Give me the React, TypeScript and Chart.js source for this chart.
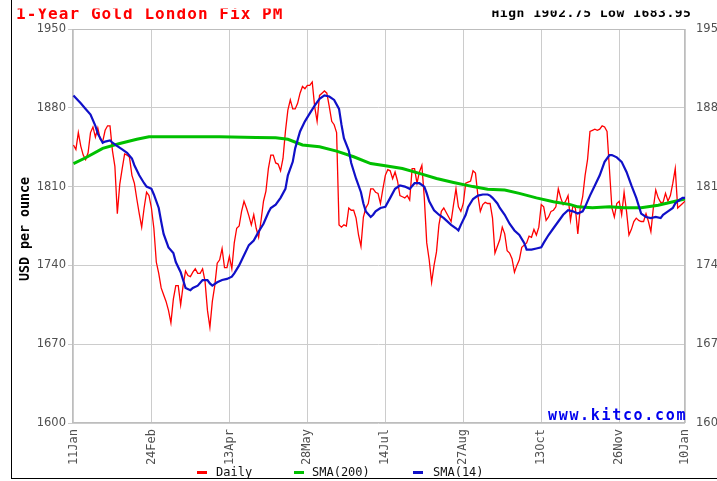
import React, { useEffect, useRef } from 'react';
import { Chart, registerables } from 'chart.js';

Chart.register(...registerables);

const chartTitle = '1-Year Gold London Fix PM';
const highValue = '1902.75';
const lowValue = '1683.95';
const yAxisTitle = 'USD per ounce';
const siteText = 'www.kitco.com';

const tickLabels = ['11Jan', '24Feb', '13Apr', '28May', '14Jul', '27Aug', '13Oct', '26Nov', '10Jan'];
const tickIndex = [0, 32, 64, 96, 128, 160, 192, 224, 251];
const yTickValues = [1600, 1670, 1740, 1810, 1880, 1950];

const daily = [
  1847, 1843, 1858, 1846, 1838, 1834, 1840, 1858, 1863, 1854,
  1862, 1852, 1850, 1860, 1864, 1864, 1842, 1828, 1786, 1812,
  1826, 1839, 1838, 1836, 1820, 1813, 1799, 1786, 1774, 1791,
  1805, 1802, 1791, 1773, 1743, 1733, 1720, 1714, 1708, 1700,
  1689, 1710, 1722, 1722, 1705, 1722, 1735, 1731, 1730, 1734,
  1737, 1733, 1733, 1737, 1726, 1700, 1685, 1708, 1722, 1742,
  1745, 1755, 1738, 1738, 1748, 1737, 1760, 1773, 1775, 1788,
  1797, 1791, 1784, 1776, 1785, 1773, 1765, 1780, 1797, 1806,
  1826, 1838, 1838, 1831, 1830, 1824, 1835, 1859, 1878, 1887,
  1879, 1879, 1884, 1893, 1899, 1897, 1900, 1900, 1903, 1881,
  1868, 1891, 1893, 1895, 1893, 1881, 1868, 1865, 1858, 1776,
  1774, 1776, 1775, 1791, 1789, 1789, 1782, 1767, 1757, 1783,
  1791, 1795, 1808, 1808, 1805, 1804, 1795, 1808, 1820, 1825,
  1824, 1817, 1823, 1815, 1802, 1801, 1800, 1802, 1798, 1826,
  1826, 1813, 1823, 1829, 1800, 1760, 1745, 1725, 1740, 1752,
  1776, 1788, 1791, 1787, 1783, 1779, 1794, 1808, 1792, 1788,
  1795, 1813, 1814, 1815, 1824, 1822, 1802, 1788, 1794, 1796,
  1795, 1795, 1782, 1751, 1757, 1763, 1774, 1768, 1753, 1751,
  1746, 1734, 1740, 1745, 1756, 1758, 1760, 1766, 1765, 1772,
  1767, 1774, 1794, 1792, 1780, 1783, 1788, 1789, 1792, 1808,
  1800, 1794, 1797, 1802, 1780, 1793, 1791, 1768, 1791, 1801,
  1820, 1834, 1859, 1860, 1861, 1860, 1861, 1864, 1863, 1859,
  1825, 1791, 1783, 1795, 1797, 1785, 1805, 1788, 1767, 1772,
  1779, 1782, 1780, 1779, 1779, 1786, 1779, 1770, 1791, 1807,
  1800, 1796, 1796, 1804, 1797, 1802, 1813, 1826, 1791, 1793,
  1795, 1797,
];

const sma14Index = [
  0, 3, 5, 7, 9, 10, 12, 13, 15, 16, 18, 20, 22, 24, 25, 27, 29, 30, 32, 33,
  35, 36, 37, 39, 41, 42, 44, 45, 46, 48, 49, 51, 53, 55, 56, 57, 59, 61, 63, 65,
  66, 68, 70, 72, 74, 76, 78, 80, 81, 83, 85, 87, 88, 90, 91, 93, 95, 97, 99, 101,
  103, 105, 107, 109, 110, 111, 113, 114, 116, 118, 119, 120, 122, 123, 124, 126, 128, 130, 132, 134,
  136, 138, 140, 142, 144, 145, 146, 148, 150, 152, 155, 157, 158, 159, 161, 162, 164, 166, 168, 170,
  171, 172, 174, 175, 177, 179, 181, 183, 185, 186, 188, 190, 192, 193, 195, 197, 199, 201, 203, 205,
  207, 209, 210, 212, 214, 216, 218, 220, 221, 223, 225, 227, 229, 231, 233, 235, 237, 239, 241, 242,
  244, 246, 247, 248, 250, 251,
];
const sma14Values = [
  1891, 1884, 1879, 1874, 1864, 1857, 1849, 1850, 1851, 1849, 1846, 1843, 1840, 1835, 1829, 1820, 1813, 1810, 1808, 1803,
  1791, 1779, 1768, 1756, 1751, 1743, 1734, 1727, 1720, 1718, 1720, 1722, 1727, 1727, 1724, 1722, 1725, 1727, 1728, 1730,
  1733, 1740, 1749, 1758, 1762, 1770, 1777, 1787, 1791, 1794, 1800, 1808, 1820, 1832, 1844, 1859, 1868, 1875, 1882, 1888,
  1891, 1890, 1887, 1879, 1865, 1853, 1842, 1831, 1817, 1805, 1795, 1788, 1783, 1785, 1788, 1791, 1792, 1800, 1808, 1811,
  1810, 1808, 1813, 1813, 1810, 1804, 1797, 1789, 1785, 1782, 1776, 1773, 1771, 1776, 1785, 1792, 1799, 1802, 1803, 1803,
  1802, 1800, 1795, 1791, 1785, 1777, 1771, 1767, 1760, 1754, 1754, 1755, 1756, 1760, 1767, 1773, 1779, 1785, 1789, 1788,
  1786, 1788, 1792, 1802, 1811, 1820, 1832, 1838, 1838, 1836, 1832, 1823, 1811, 1800, 1786, 1783, 1782, 1783, 1782, 1785,
  1788, 1791, 1795, 1797, 1800, 1800,
];

const sma200Index = [0, 5, 12, 19, 26, 31, 42, 60, 75, 83, 88, 94, 101, 108, 115, 122, 128, 135, 142, 149, 156, 164, 170, 177, 183, 190, 197, 204, 207, 213, 220, 226, 233, 240, 247, 251];
const sma200Values = [1830.5, 1835.6, 1844, 1848.3, 1852, 1854.2, 1854.2, 1854.2, 1853.6, 1853.4, 1852, 1847, 1845.4, 1841.5, 1836.5, 1830.5, 1828.5, 1826, 1821.7, 1817.2, 1813.7, 1810, 1807.7, 1806.9, 1804, 1800, 1796.5, 1794, 1792, 1791.2, 1792, 1791.2, 1791.2, 1793.5, 1797, 1799];

const seriesColors = ['#ff0000', '#00c000', '#1010c8'];

function drawSpaced(ctx: CanvasRenderingContext2D, text: string, x: number, y: number, step: number) {
  for (let i = 0; i < text.length; i++) ctx.fillText(text[i], x + i * step, y);
}

export default function App() {
  const ref = useRef<HTMLCanvasElement>(null);

  useEffect(() => {
    const canvas = ref.current;
    if (!canvas) return;

    const decor = {
      id: 'decor',
      beforeDatasetsDraw(chart: any) {
        const ctx = chart.ctx as CanvasRenderingContext2D;
        const a = chart.chartArea;
        ctx.save();
        ctx.strokeStyle = '#bdbdbd';
        ctx.lineWidth = 1;
        ctx.strokeRect(a.left + 0.5, a.top + 0.5, a.right - a.left - 1, a.bottom - a.top - 1);
        ctx.restore();
      },
      afterDraw(chart: any) {
        const ctx = chart.ctx as CanvasRenderingContext2D;
        const a = chart.chartArea;
        ctx.save();
        // outer frame
        ctx.fillStyle = '#000';
        ctx.fillRect(11, 0, 1, 479);
        ctx.fillRect(11, 478, 706, 1);

        // title (top clipped)
        ctx.save();
        ctx.beginPath();
        ctx.rect(12, 8.5, 400, 16);
        ctx.clip();
        ctx.fillStyle = '#ff0000';
        ctx.font = 'bold 16px "DejaVu Sans Mono"';
        ctx.textBaseline = 'alphabetic';
        ctx.textAlign = 'left';
        drawSpaced(ctx, chartTitle, 16, 18.5, 10.7);
        ctx.restore();

        // high / low
        ctx.save();
        ctx.beginPath();
        ctx.rect(450, 10.5, 267, 12);
        ctx.clip();
        ctx.fillStyle = '#000';
        ctx.font = 'bold 13px "DejaVu Sans Mono"';
        ctx.textBaseline = 'alphabetic';
        ctx.textAlign = 'left';
        drawSpaced(ctx, `High ${highValue} Low ${lowValue}`, 491.5, 16.8, 8.33);
        ctx.restore();

        // y axis title
        ctx.save();
        ctx.translate(26, (a.top + a.bottom) / 2 + 3);
        ctx.rotate(-Math.PI / 2);
        ctx.fillStyle = '#000';
        ctx.font = 'bold 13.3px "DejaVu Sans Mono"';
        ctx.textAlign = 'center';
        ctx.textBaseline = 'middle';
        ctx.fillText(yAxisTitle, 0, 0);
        ctx.restore();

        // site text
        ctx.fillStyle = '#0000ee';
        ctx.font = 'bold 15px "DejaVu Sans Mono"';
        ctx.textAlign = 'left';
        ctx.textBaseline = 'alphabetic';
        drawSpaced(ctx, siteText, 548, 419.5, 10.7);

        // legend
        const dashX = [197, 294, 413];
        const textX = [216, 312, 433];
        ctx.font = '12px "DejaVu Sans Mono"';
        ctx.textBaseline = 'middle';
        chart.data.datasets.forEach((ds: any, i: number) => {
          ctx.fillStyle = ds.borderColor;
          ctx.fillRect(dashX[i], 471, 10, 3);
          ctx.fillStyle = '#111';
          ctx.fillText(ds.label, textX[i], 472.5);
        });
        ctx.restore();
      },
    };

    const yTickCallback = (v: any) => String(v);

    const chart = new Chart(canvas, {
      type: 'line',
      data: {
        datasets: [
          {
            label: 'Daily',
            data: daily.map((v, i) => ({ x: i, y: v })),
            borderColor: seriesColors[0],
            backgroundColor: seriesColors[0],
            borderWidth: 1.3,
            pointRadius: 0,
            tension: 0,
            order: 3,
          },
          {
            label: 'SMA(200)',
            data: sma200Index.map((x, i) => ({ x, y: sma200Values[i] })),
            borderColor: seriesColors[1],
            backgroundColor: seriesColors[1],
            borderWidth: 3,
            pointRadius: 0,
            tension: 0,
            order: 2,
          },
          {
            label: 'SMA(14)',
            data: sma14Index.map((x, i) => ({ x, y: sma14Values[i] })),
            borderColor: seriesColors[2],
            backgroundColor: seriesColors[2],
            borderWidth: 2.2,
            pointRadius: 0,
            tension: 0,
            order: 1,
          },
        ],
      },
      options: {
        responsive: false,
        animation: false,
        devicePixelRatio: 1,
        layout: { padding: { top: 29, left: 0, right: 0, bottom: 0 } },
        plugins: { legend: { display: false }, tooltip: { enabled: false } },
        scales: {
          x: {
            type: 'linear',
            position: 'bottom',
            min: -0.6,
            max: 251,
            afterBuildTicks: (s: any) => {
              s.ticks = tickIndex.map((v) => ({ value: v }));
            },
            afterFit: (s: any) => {
              s.height = 58;
            },
            ticks: {
              autoSkip: false,
              maxRotation: 90,
              minRotation: 90,
              padding: 6,
              color: '#505050',
              font: { family: 'DejaVu Sans Mono', size: 12 },
              callback: (v: any) => {
                const k = tickIndex.indexOf(Number(v));
                return k >= 0 ? tickLabels[k] : '';
              },
            },
            grid: { color: '#cccccc', lineWidth: 1, drawTicks: false },
            border: { display: false },
          },
          y: {
            type: 'linear',
            position: 'left',
            min: 1600,
            max: 1950,
            afterBuildTicks: (s: any) => {
              s.ticks = yTickValues.map((v) => ({ value: v }));
            },
            afterFit: (s: any) => {
              s.width = 72;
            },
            ticks: {
              padding: 2,
              color: '#505050',
              font: { family: 'DejaVu Sans', size: 11.5 },
              callback: yTickCallback,
            },
            grid: { color: '#cccccc', lineWidth: 1, drawTicks: true, tickLength: 4 },
            border: { display: false },
          },
          y2: {
            type: 'linear',
            position: 'right',
            min: 1600,
            max: 1950,
            afterBuildTicks: (s: any) => {
              s.ticks = yTickValues.map((v) => ({ value: v }));
            },
            afterFit: (s: any) => {
              s.width = 32;
            },
            ticks: {
              padding: 3,
              color: '#505050',
              font: { family: 'DejaVu Sans', size: 11.5 },
              callback: yTickCallback,
            },
            grid: { display: false },
            border: { display: false },
          },
        },
      },
      plugins: [decor],
    } as any);

    return () => chart.destroy();
  }, []);

  return (
    <div style={{ position: 'absolute', left: 0, top: 0, width: 717, height: 481, background: '#ffffff' }}>
      <canvas ref={ref} width={717} height={481} style={{ display: 'block', width: 717, height: 481 }} />
    </div>
  );
}
